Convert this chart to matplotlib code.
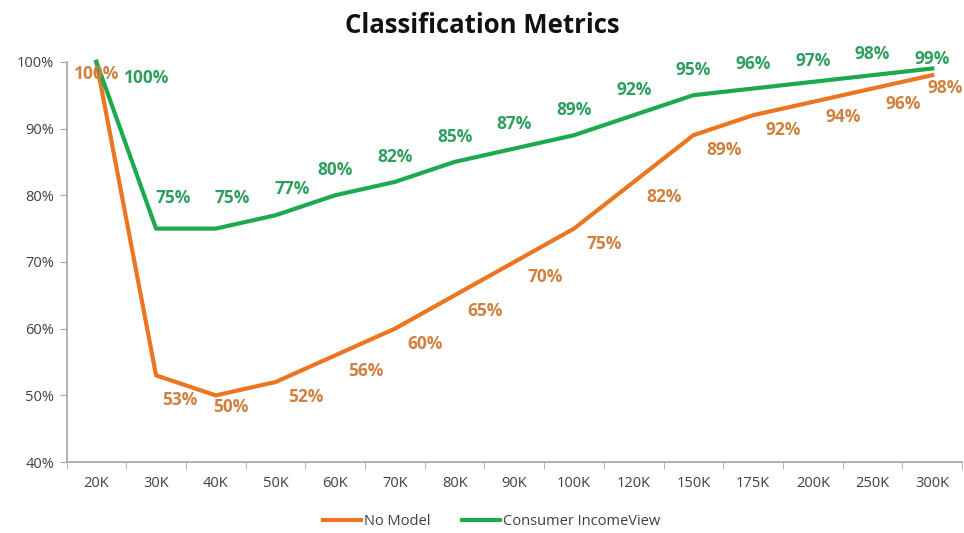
import matplotlib
matplotlib.use("Agg")
import matplotlib.pyplot as plt

categories = ["20K", "30K", "40K", "50K", "60K", "70K", "80K", "90K", "100K",
              "120K", "150K", "175K", "200K", "250K", "300K"]
no_model = [100, 53, 50, 52, 56, 60, 65, 70, 75, 82, 89, 92, 94, 96, 98]
incomeview = [100, 75, 75, 77, 80, 82, 85, 87, 89, 92, 95, 96, 97, 98, 99]
series_names = ["No Model", "Consumer IncomeView"]

plt.rcParams["font.family"] = ["Open Sans", "DejaVu Sans"]

ORANGE = "#EC7522"
ORANGE_TXT = "#D0803F"
GREEN = "#1DAA4E"
GREEN_TXT = "#2E9F5E"
AXIS = "#A6A6A6"

fig = plt.figure(figsize=(9.64, 5.33), dpi=100)
ax = fig.add_axes([0.069, 0.133, 0.929, 0.751])

x = list(range(len(categories)))
ax.plot(x, no_model, color=ORANGE, lw=3.0, label=series_names[0],
        solid_joinstyle="round", clip_on=False, zorder=3)
ax.plot(x, incomeview, color=GREEN, lw=3.0, label=series_names[1],
        solid_joinstyle="round", clip_on=False, zorder=3)

# value labels: orange below-right of the point, green above
for i, v in enumerate(no_model):
    dx, dy = 22, -11
    if i == 0:
        dx, dy = 0, -9
    elif i == 1:
        dx, dy = 17, -18
    elif i == 2:
        dx, dy = 11, -8
    elif i == len(no_model) - 1:
        dx, dy = 9, -9
    ax.annotate(f"{v}%", (i, v), xytext=(dx, dy), textcoords="offset points",
                ha="center", va="center", color=ORANGE_TXT, fontsize=12.5,
                fontweight="bold", zorder=4)
for i, v in enumerate(incomeview):
    dx, dy = 0, 18
    if i == 0:
        dx, dy = 36, -12
    elif i in (1, 2):
        dx, dy = 12, 22
    elif i == 3:
        dx, dy = 12, 19
    elif i >= 12:
        dx, dy = 0, 15
    if i == len(incomeview) - 1:
        dx, dy = 0, 7
    ax.annotate(f"{v}%", (i, v), xytext=(dx, dy), textcoords="offset points",
                ha="center", va="center", color=GREEN_TXT, fontsize=12.5,
                fontweight="bold", zorder=4)

ax.set_xlim(-0.5, len(categories) - 0.5)
ax.set_ylim(40, 100)
ax.set_yticks(range(40, 101, 10))
ax.set_yticklabels([f"{t}%" for t in range(40, 101, 10)])
ax.set_xticks(x)
ax.set_xticklabels(categories)
ax.set_xticks([i - 0.5 for i in range(len(categories) + 1)], minor=True)
ax.tick_params(axis="x", which="major", length=0, pad=10, labelsize=10.5, colors="#404040")
ax.tick_params(axis="x", which="minor", length=5, color=AXIS)
ax.tick_params(axis="y", length=5, color=AXIS, labelsize=10.5, labelcolor="#404040", pad=4)

for side in ("top", "right"):
    ax.spines[side].set_visible(False)
for side in ("left", "bottom"):
    ax.spines[side].set_color(AXIS)
    ax.spines[side].set_linewidth(1.2)

fig.suptitle("Classification Metrics", y=0.978, fontsize=18.5, fontweight="bold",
             color="#111111")

fig.legend(loc="lower center", bbox_to_anchor=(0.51, -0.017), ncol=2, frameon=False,
           fontsize=10.5, handlelength=2.6, handletextpad=0.2, columnspacing=2.2,
           labelcolor="#404040")

fig.savefig("out.png", dpi=100)
